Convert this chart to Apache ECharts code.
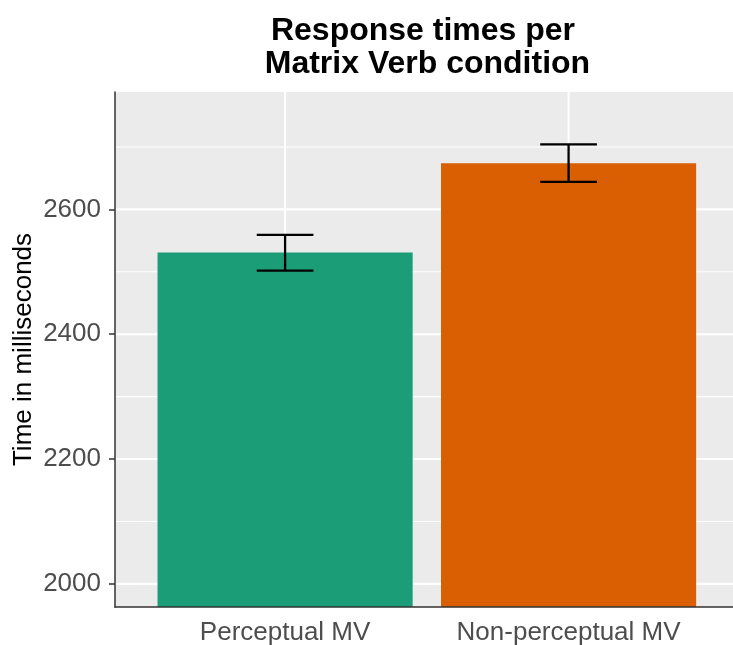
<!DOCTYPE html>
<html><head><meta charset="utf-8">
<script src="https://cdn.jsdelivr.net/npm/echarts@6/dist/echarts.min.js"></script>
<style>html,body{margin:0;padding:0;background:#fff}#c{width:733px;height:645px}</style>
</head><body><div id="c"></div>
<script>
const categories = ['Perceptual MV', 'Non-perceptual MV'];
const meanRT = [2531, 2674];
const ciLow = [2502, 2644];
const ciHigh = [2559, 2704];
const yTickValues = [2000, 2200, 2400, 2600];
const yMinorValues = [2100, 2300, 2500, 2700];
const barColors = ['#1B9E77', '#D95F02'];
const titleText = 'Response times per\n Matrix Verb condition';
const yTitle = 'Time in milliseconds';

const Y_MIN = 1963, Y_MAX = 2788, X_MIN = 0.4, X_MAX = 2.58;
const FONT = 'Liberation Sans, Arial, sans-serif';
const catPos = categories.map((c, i) => i + 1);

function hLine(width) {
  return function (params, api) {
    const cs = params.coordSys;
    const y = api.coord([X_MIN, api.value(1)])[1];
    return { type: 'line', shape: { x1: cs.x, y1: y, x2: cs.x + cs.width, y2: y },
      style: { stroke: '#FFFFFF', lineWidth: width } };
  };
}
function vLine(width) {
  return function (params, api) {
    const cs = params.coordSys;
    const x = api.coord([api.value(0), Y_MIN])[0];
    return { type: 'line', shape: { x1: x, y1: cs.y, x2: x, y2: cs.y + cs.height },
      style: { stroke: '#FFFFFF', lineWidth: width } };
  };
}

const chart = echarts.init(document.getElementById('c'), null, { renderer: 'canvas' });
chart.setOption({
  animation: false,
  backgroundColor: '#FFFFFF',
  title: {
    text: titleText,
    left: 418, top: 10, textAlign: 'center',
    textStyle: { fontFamily: FONT, fontSize: 32, fontWeight: 'bold', color: '#000', lineHeight: 33 }
  },
  grid: { left: 115, top: 92, right: 0, bottom: 38, show: true, backgroundColor: '#EBEBEB', borderWidth: 0,
    containLabel: false, outerBoundsMode: 'none' },
  xAxis: {
    type: 'value', min: X_MIN, max: X_MAX, z: 10,
    axisLine: { show: true, onZero: false, lineStyle: { color: '#333333', width: 1.5 } },
    axisTick: { show: false, customValues: catPos },
    axisLabel: { customValues: catPos, formatter: v => categories[Math.round(v) - 1] || '',
      fontFamily: FONT, fontSize: 26, color: '#4D4D4D', margin: 13 },
    splitLine: { show: false }
  },
  yAxis: {
    type: 'value', min: Y_MIN, max: Y_MAX, z: 10,
    name: yTitle, nameLocation: 'middle', nameGap: 78, nameMoveOverlap: false,
    nameTextStyle: { fontFamily: FONT, fontSize: 26, color: '#000' },
    axisLine: { show: true, lineStyle: { color: '#333333', width: 1.5 } },
    axisTick: { show: true, customValues: yTickValues, length: 6, lineStyle: { color: '#333333', width: 1.5 } },
    axisLabel: { customValues: yTickValues, formatter: v => String(v),
      fontFamily: FONT, fontSize: 26, color: '#4D4D4D', margin: 14 },
    splitLine: { show: false }
  },
  series: [
    { type: 'custom', z: 1, silent: true, renderItem: hLine(1.1), data: yMinorValues.map(v => [X_MIN, v]) },
    { type: 'custom', z: 1, silent: true, renderItem: hLine(2.1), data: yTickValues.map(v => [X_MIN, v]) },
    { type: 'custom', z: 1, silent: true, renderItem: vLine(2.1), data: catPos.map(v => [v, Y_MIN]) },
    {
      type: 'custom', z: 3, silent: true,
      dimensions: ['x', 'mean', 'lo', 'hi'],
      encode: { x: 0, y: 1 },
      data: categories.map((c, i) => [i + 1, meanRT[i], ciLow[i], ciHigh[i]]),
      renderItem: function (params, api) {
        const x = api.value(0), m = api.value(1), lo = api.value(2), hi = api.value(3);
        const p0 = api.coord([x - 0.45, Y_MIN]);
        const p1 = api.coord([x + 0.45, m]);
        const a = api.coord([x, lo]), b = api.coord([x, hi]);
        const cl = api.coord([x - 0.1, lo])[0], cr = api.coord([x + 0.1, lo])[0];
        const st = { stroke: '#000000', lineWidth: 2.3 };
        return { type: 'group', children: [
          { type: 'rect', shape: { x: p0[0], y: p1[1], width: p1[0] - p0[0], height: p0[1] - p1[1] },
            style: { fill: barColors[params.dataIndex] } },
          { type: 'line', shape: { x1: a[0], y1: a[1], x2: b[0], y2: b[1] }, style: st },
          { type: 'line', shape: { x1: cl, y1: a[1], x2: cr, y2: a[1] }, style: st },
          { type: 'line', shape: { x1: cl, y1: b[1], x2: cr, y2: b[1] }, style: st }
        ] };
      }
    }
  ]
});
</script></body></html>
